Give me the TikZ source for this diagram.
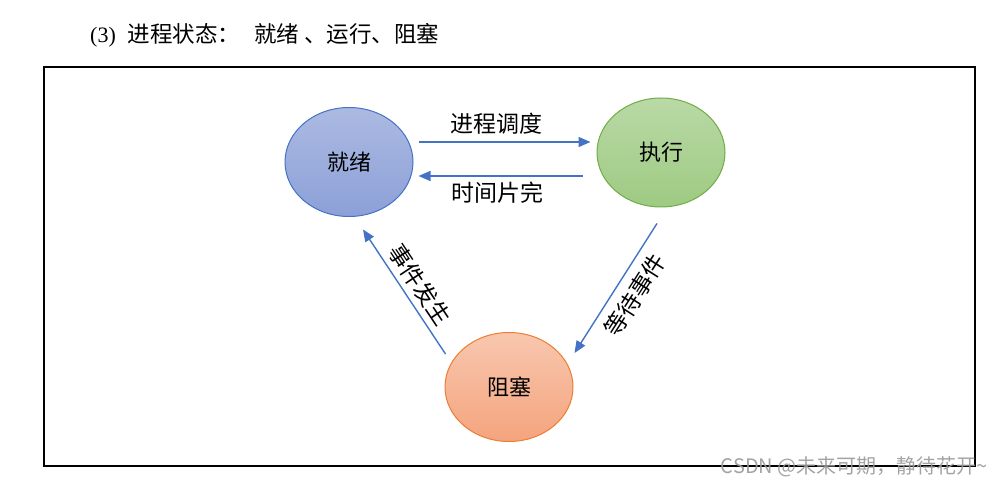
\documentclass[tikz,border=0pt]{standalone}
\usepackage{fontspec}
\setmainfont{Liberation Serif}
\newfontfamily\cjk{Noto Sans CJK SC}
\usetikzlibrary{shapes.geometric,arrows.meta}
\definecolor{jxline}{HTML}{4472C4}
\definecolor{jxtop}{RGB}{172,186,226}
\definecolor{jxbot}{RGB}{140,160,216}
\definecolor{zxline}{HTML}{70AD47}
\definecolor{zxtop}{RGB}{185,217,166}
\definecolor{zxbot}{RGB}{158,202,130}
\definecolor{zsline}{HTML}{ED7D31}
\definecolor{zstop}{RGB}{248,199,175}
\definecolor{zsbot}{RGB}{244,164,125}
\definecolor{arrblue}{HTML}{4472C4}

\begin{document}
\begin{tikzpicture}[x=1pt, y=-1pt,
    state/.style={ellipse, draw, line width=1pt, minimum width=128pt,
      minimum height=109pt, inner sep=0pt, font=\cjk\fontsize{22}{26}\selectfont},
    trans/.style={draw=arrblue, line width=1.4pt, -{Triangle[length=12pt,width=10pt]}},
    lab/.style={font=\cjk\fontsize{23}{26}\selectfont, inner sep=0pt}]
  \useasboundingbox (0,0) rectangle (1000,486);
  % Title
  \node[anchor=west, inner sep=0pt] (title) at (90,35)
    {\fontsize{22}{24}\selectfont (3)\hspace{12pt}\cjk\fontsize{22.5}{26}\selectfont
     进程状态：\hspace{14pt}就绪\hspace{5pt}、运行、阻塞};
  % Frame
  \draw [line width=1.5pt] (44,67) rectangle (975,466);
  % States
  \node [state, draw=jxline, top color=jxtop, bottom color=jxbot] (jiuxu) at (349,162) {就绪};
  \node [state, draw=zxline, top color=zxtop, bottom color=zxbot] (zhixing) at (661,152.5) {执行};
  \node [state, draw=zsline, top color=zstop, bottom color=zsbot] (zuse) at (509,387) {阻塞};
  % Transitions
  \draw [trans, shorten <=5pt, shorten >=6pt]
    ([yshift=20pt]jiuxu.east) -- ([yshift=10.5pt]zhixing.west);
  \draw [trans, shorten <=14pt, shorten >=5pt]
    ([yshift=-23.5pt]zhixing.west) -- ([yshift=-14pt]jiuxu.east);
  \draw [trans] ([xshift=-4pt,yshift=-16pt]zhixing.south) -- ([xshift=1pt,yshift=34pt]zuse.east);
  \draw [trans] ([xshift=1pt,yshift=33pt]zuse.west) -- ([xshift=14pt,yshift=-12.5pt]jiuxu.south);
  % Labels
  \node [lab] (diaodu) at (496,124) {进程调度};
  \node [lab] (shijian) at (497,193) {时间片完};
  \node [lab, rotate=57.4] (dengdai) at (635,295) {等待事件};
  \node [lab, rotate=-56.4] (fasheng) at (420,285) {事件发生};
  % Watermark
  \node [anchor=east, inner sep=0pt, text=black!40, opacity=0.9,
    font=\cjk\fontsize{20}{22}\selectfont] (mark) at (988,467) {CSDN @未来可期，静待花开\textasciitilde};
\end{tikzpicture}
\end{document}
